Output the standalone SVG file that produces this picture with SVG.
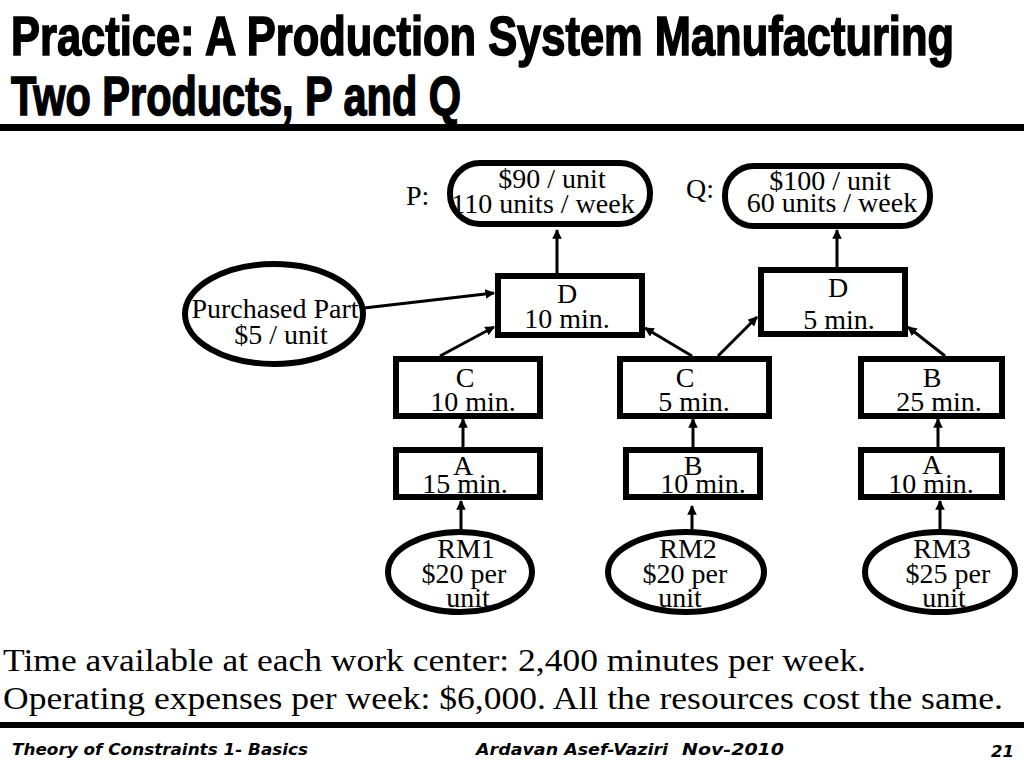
<svg xmlns="http://www.w3.org/2000/svg" width="1024" height="768" viewBox="0 0 1024 768">
<defs>
<marker id="ah" viewBox="0 0 10 10" refX="9" refY="5" markerWidth="3.2" markerHeight="3.2" orient="auto" markerUnits="strokeWidth">
<path d="M0,0 L10,5 L0,10 z" fill="#000"/>
</marker>
<style>
.box{fill:#fff;stroke:#000;stroke-width:6}
.t{font-family:"Liberation Serif","Times New Roman",serif;font-size:28px;fill:#000;text-anchor:middle}
.tl{font-family:"Liberation Serif","Times New Roman",serif;font-size:28px;fill:#000}
.c{stroke:#000;stroke-width:3;fill:none;marker-end:url(#ah)}
.title{font-family:"Liberation Sans Narrow","Liberation Sans",Arial,sans-serif;font-weight:bold;font-size:55px;fill:#000;stroke:#000;stroke-width:1.6}
.body{font-family:"Liberation Serif","Times New Roman",serif;font-size:31px;fill:#000}
.foot{font-family:"DejaVu Sans",Verdana,sans-serif;font-weight:bold;font-style:italic;font-size:16px;fill:#000}
</style>
</defs>
<rect x="0" y="0" width="1024" height="768" fill="#fff"/>
<text class="title" x="11" y="55" textLength="943" lengthAdjust="spacingAndGlyphs">Practice: A Production System Manufacturing</text>
<text class="title" x="11" y="115" textLength="450" lengthAdjust="spacingAndGlyphs">Two Products, P and Q</text>
<rect x="0" y="124" width="1024" height="7" fill="#000"/>

<g id="connectors">
<line class="c" x1="557" y1="274" x2="557" y2="230"/>
<line class="c" x1="364" y1="308" x2="494" y2="293"/>
<line class="c" x1="440" y1="356" x2="494" y2="327"/>
<line class="c" x1="692" y1="356" x2="645" y2="328"/>
<line class="c" x1="718" y1="356" x2="757" y2="317"/>
<line class="c" x1="945" y1="356" x2="908" y2="327"/>
<line class="c" x1="837" y1="268" x2="837" y2="230"/>
<line class="c" x1="463" y1="447" x2="463" y2="419"/>
<line class="c" x1="693" y1="447" x2="693" y2="419"/>
<line class="c" x1="938" y1="447" x2="938" y2="419"/>
<line class="c" x1="461" y1="530" x2="461" y2="501"/>
<line class="c" x1="692" y1="538" x2="692" y2="506"/>
<line class="c" x1="940" y1="530" x2="940" y2="501"/>
</g>

<g id="P">
<rect class="box" x="450" y="163" width="200" height="61" rx="30"/>
<text class="t" x="552" y="188">$90 / unit</text>
<text class="t" x="543" y="213">110 units / week</text>
<text class="tl" x="406" y="205">P:</text>
</g>
<g id="Q">
<rect class="box" x="725" y="166" width="205" height="60" rx="29"/>
<text class="t" x="830" y="190">$100 / unit</text>
<text class="t" x="832" y="212">60 units / week</text>
<text class="tl" x="686" y="198">Q:</text>
</g>
<g id="DP">
<rect class="box" x="498" y="276" width="144" height="59"/>
<text class="t" x="567" y="303">D</text>
<text class="t" x="567" y="328">10 min.</text>
</g>
<g id="DQ">
<rect class="box" x="761" y="270" width="144" height="64"/>
<text class="t" x="838" y="297">D</text>
<text class="t" x="839" y="329">5 min.</text>
</g>
<g id="PP">
<ellipse class="box" cx="274" cy="314" rx="89" ry="50"/>
<text class="t" x="275" y="318">Purchased Part</text>
<text class="t" x="281" y="344">$5 / unit</text>
</g>
<g id="C1">
<rect class="box" x="396" y="359" width="144" height="57"/>
<text class="t" x="465" y="387">C</text>
<text class="t" x="473" y="411">10 min.</text>
</g>
<g id="C2">
<rect class="box" x="620" y="359" width="149" height="57"/>
<text class="t" x="685" y="387">C</text>
<text class="t" x="694" y="411">5 min.</text>
</g>
<g id="B3">
<rect class="box" x="861" y="359" width="141" height="57"/>
<text class="t" x="932" y="387">B</text>
<text class="t" x="939" y="411">25 min.</text>
</g>
<g id="A1">
<rect class="box" x="396" y="450" width="144" height="47"/>
<text class="t" x="463" y="475">A</text>
<text class="t" x="465" y="493">15 min.</text>
</g>
<g id="B2">
<rect class="box" x="626" y="450" width="134" height="47"/>
<text class="t" x="693" y="475">B</text>
<text class="t" x="703" y="493">10 min.</text>
</g>
<g id="A3">
<rect class="box" x="861" y="450" width="141" height="47"/>
<text class="t" x="932" y="474">A</text>
<text class="t" x="931" y="493">10 min.</text>
</g>
<g id="RM1">
<ellipse class="box" cx="460" cy="572" rx="72" ry="40"/>
<text class="t" x="466" y="558">RM1</text>
<text class="t" x="464" y="583">$20 per</text>
<text class="t" x="468" y="607">unit</text>
</g>
<g id="RM2">
<ellipse class="box" cx="686" cy="572" rx="78" ry="40"/>
<text class="t" x="688" y="558">RM2</text>
<text class="t" x="685" y="583">$20 per</text>
<text class="t" x="680" y="607">unit</text>
</g>
<g id="RM3">
<ellipse class="box" cx="940" cy="572" rx="75" ry="40"/>
<text class="t" x="942" y="558">RM3</text>
<text class="t" x="948" y="583">$25 per</text>
<text class="t" x="944" y="607">unit</text>
</g>

<text class="body" x="3" y="671" textLength="863" lengthAdjust="spacingAndGlyphs">Time available at each work center: 2,400 minutes per week.</text>
<text class="body" x="3" y="709" textLength="1000" lengthAdjust="spacingAndGlyphs">Operating expenses per week: $6,000. All the resources cost the same.</text>
<rect x="0" y="722" width="1024" height="6" fill="#000"/>
<text class="foot" x="12" y="755" textLength="296" lengthAdjust="spacingAndGlyphs">Theory of Constraints 1- Basics</text>
<text class="foot" x="476" y="755" textLength="192" lengthAdjust="spacingAndGlyphs">Ardavan Asef-Vaziri</text>
<text class="foot" x="682" y="755" textLength="102" lengthAdjust="spacingAndGlyphs">Nov-2010</text>
<text class="foot" x="991" y="757" font-size="18" textLength="23" lengthAdjust="spacingAndGlyphs">21</text>
</svg>
